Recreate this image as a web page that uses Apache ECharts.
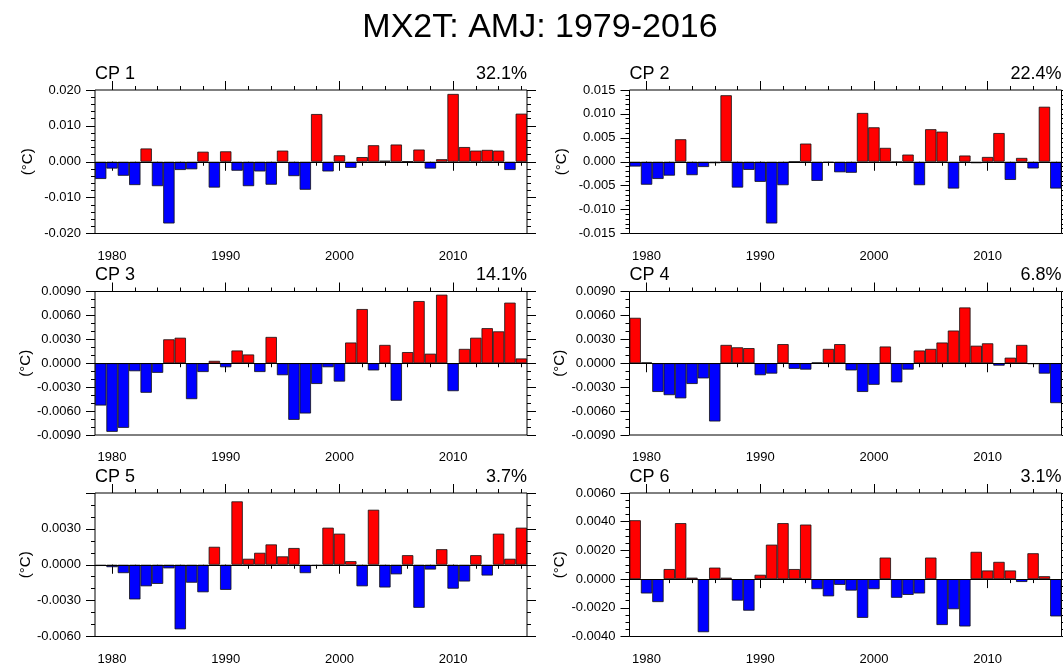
<!DOCTYPE html>
<html>
<head>
<meta charset="utf-8">
<title>MX2T: AMJ: 1979-2016</title>
<script src="https://cdn.jsdelivr.net/npm/echarts@6/dist/echarts.min.js"></script>
<style>
  html, body { margin: 0; padding: 0; background: #fff; }
  #chart { width: 1063px; height: 669px; }
</style>
</head>
<body>
<div id="chart"></div>
<script>
// Years of the record
const years = [
  '1979','1980','1981','1982','1983','1984','1985','1986','1987','1988',
  '1989','1990','1991','1992','1993','1994','1995','1996','1997','1998',
  '1999','2000','2001','2002','2003','2004','2005','2006','2007','2008',
  '2009','2010','2011','2012','2013','2014','2015','2016'
];

// Principal component time series (°C), one value per year
const cp1 = [-0.0048,-0.0019,-0.0039,-0.0065,0.0037,-0.0068,-0.0172,-0.0023,-0.0021,0.0028,
             -0.0072,0.0029,-0.0025,-0.0068,-0.0027,-0.0064,0.0031,-0.0040,-0.0078,0.0133,
             -0.0027,0.0018,-0.0017,0.0013,0.0046,0.0003,0.0048,0.0001,0.0034,-0.0019,
             0.0007,0.0189,0.0041,0.0031,0.0033,0.0031,-0.0023,0.0134];
const cp2 = [-0.0010,-0.0048,-0.0036,-0.0029,0.0047,-0.0028,-0.0011,-0.0003,0.0139,-0.0054,
             -0.0017,-0.0042,-0.0129,-0.0049,0.0000,0.0038,-0.0040,-0.0002,-0.0022,-0.0023,
             0.0102,0.0072,0.0029,-0.0001,0.0015,-0.0049,0.0068,0.0063,-0.0056,0.0013,
             -0.0003,0.0010,0.0060,-0.0038,0.0008,-0.0014,0.0115,-0.0056];
const cp3 = [-0.0053,-0.0086,-0.0081,-0.0010,-0.0037,-0.0012,0.0030,0.0032,-0.0045,-0.0011,
             0.0003,-0.0005,0.0016,0.0011,-0.0011,0.0033,-0.0015,-0.0071,-0.0063,-0.0026,
             -0.0005,-0.0023,0.0026,0.0068,-0.0009,0.0023,-0.0047,0.0014,0.0078,0.0012,
             0.0086,-0.0035,0.0018,0.0032,0.0044,0.0040,0.0076,0.0006];
const cp4 = [0.0057,0.0001,-0.0036,-0.0040,-0.0044,-0.0026,-0.0019,-0.0073,0.0023,0.0020,
             0.0019,-0.0015,-0.0013,0.0024,-0.0007,-0.0008,0.0001,0.0018,0.0024,-0.0009,
             -0.0036,-0.0027,0.0021,-0.0024,-0.0008,0.0016,0.0018,0.0026,0.0041,0.0070,
             0.0022,0.0025,-0.0003,0.0007,0.0023,-0.0001,-0.0013,-0.0050];
const cp5 = [-0.0001,-0.0002,-0.0007,-0.0029,-0.0018,-0.0016,-0.0003,-0.0054,-0.0015,-0.0023,
             0.0015,-0.0021,0.0053,0.0005,0.0010,0.0017,0.0007,0.0014,-0.0007,-0.0001,
             0.0031,0.0026,0.0003,-0.0018,0.0046,-0.0019,-0.0008,0.0008,-0.0036,-0.0004,
             0.0013,-0.0020,-0.0014,0.0008,-0.0009,0.0026,0.0005,0.0031];
const cp6 = [0.0041,-0.0010,-0.0016,0.0007,0.0039,0.0001,-0.0037,0.0008,0.0001,-0.0015,
             -0.0022,0.0003,0.0024,0.0039,0.0007,0.0038,-0.0007,-0.0012,-0.0004,-0.0008,
             -0.0027,-0.0007,0.0015,-0.0013,-0.0011,-0.0010,0.0015,-0.0032,-0.0021,-0.0033,
             0.0019,0.0006,0.0012,0.0006,-0.0002,0.0018,0.0002,-0.0026];

// Panel names and explained variance
const panelNames = ['CP 1', 'CP 2', 'CP 3', 'CP 4', 'CP 5', 'CP 6'];
const variance = ['32.1%', '22.4%', '14.1%', '6.8%', '3.7%', '3.1%'];

// Y-axis ranges and tick steps per panel
const yMin = [-0.020, -0.015, -0.009, -0.009, -0.006, -0.004];
const yMax = [0.020, 0.015, 0.009, 0.009, 0.006, 0.006];
const yStep = [0.010, 0.005, 0.003, 0.003, 0.003, 0.002];
const yMinorSplit = [5, 5, 3, 3, 3, 4];
const yDecimals = [3, 3, 4, 4, 4, 4];
const yShowTop = [true, true, true, true, false, true];

const series = [cp1, cp2, cp3, cp4, cp5, cp6];

const FONT = '"Liberation Sans", Arial, Helvetica, sans-serif';
const colLeft = [95, 629.5];
const rowTop = [90, 291.5, 493];
const plotW = 432;
const plotH = 143.5;

const grids = [], xAxes = [], yAxes = [], seriesList = [], graphics = [];

graphics.push({
  type: 'text', x: 540, y: 28,
  style: { text: 'MX2T: AMJ: 1979-2016', font: '34px ' + FONT, fill: '#000',
           align: 'center', verticalAlign: 'middle' }
});

const isDecade = (idx, val) => (+val) % 10 === 0;
const isEven = (idx, val) => (+val) % 2 === 0;

for (let i = 0; i < 6; i++) {
  const left = colLeft[i % 2];
  const top = rowTop[Math.floor(i / 2)];
  grids.push({
    left: left, top: top, width: plotW, height: plotH,
    show: true, borderColor: '#000', borderWidth: 1, backgroundColor: 'transparent'
  });

  // bottom/top year axes: long ticks each decade, short ticks every second year
  const xBase = {
    gridIndex: i, type: 'category', data: years, boundaryGap: true,
    axisLine: { show: false }, splitLine: { show: false }
  };
  xAxes.push(Object.assign({}, xBase, {
    position: 'bottom',
    axisTick: { show: true, alignWithLabel: true, length: 9, interval: isDecade,
                lineStyle: { color: '#000', width: 1 } },
    axisLabel: { show: true, interval: isDecade, margin: 16, fontSize: 13,
                 fontFamily: FONT, color: '#000' }
  }));
  xAxes.push(Object.assign({}, xBase, {
    position: 'bottom',
    axisTick: { show: true, alignWithLabel: true, length: 4, interval: isEven,
                lineStyle: { color: '#000', width: 1 } },
    axisLabel: { show: false }
  }));
  xAxes.push(Object.assign({}, xBase, {
    position: 'top',
    axisTick: { show: true, alignWithLabel: true, length: 9, interval: isDecade,
                lineStyle: { color: '#000', width: 1 } },
    axisLabel: { show: false }
  }));
  xAxes.push(Object.assign({}, xBase, {
    position: 'top',
    axisTick: { show: true, alignWithLabel: true, length: 4, interval: isEven,
                lineStyle: { color: '#000', width: 1 } },
    axisLabel: { show: false }
  }));

  const dec = yDecimals[i];
  const yBase = {
    gridIndex: i, type: 'value', min: yMin[i], max: yMax[i], interval: yStep[i],
    axisLine: { show: false }, splitLine: { show: false },
    axisTick: { show: true, length: 9, lineStyle: { color: '#000', width: 1 } },
    minorTick: { show: true, splitNumber: yMinorSplit[i], length: 4,
                 lineStyle: { color: '#000', width: 1 } },
    minorSplitLine: { show: false }
  };
  yAxes.push(Object.assign({}, yBase, {
    position: 'left',
    name: '(°C)', nameLocation: 'middle', nameRotate: 90, nameGap: 60,
    nameTextStyle: { fontSize: 15, fontFamily: FONT, color: '#000' },
    axisLabel: {
      show: true, margin: 14, fontSize: 13, fontFamily: FONT, color: '#000',
      showMaxLabel: yShowTop[i],
      formatter: v => {
        const s = (+v).toFixed(dec);
        return /^-0\.0+$/.test(s) ? s.slice(1) : s;
      }
    }
  }));
  yAxes.push(Object.assign({}, yBase, {
    position: 'right',
    axisLabel: { show: false }
  }));

  seriesList.push({
    type: 'bar',
    xAxisIndex: 4 * i,
    yAxisIndex: 2 * i,
    data: series[i],
    barWidth: '100%',
    barCategoryGap: '0%',
    itemStyle: {
      color: p => (p.value >= 0 ? '#ff0000' : '#0000ff'),
      borderColor: '#111',
      borderWidth: 0.8
    },
    markLine: {
      silent: true, symbol: 'none', animation: false,
      label: { show: false },
      lineStyle: { color: '#000', width: 1, type: 'solid' },
      data: [{ yAxis: 0 }]
    }
  });

  graphics.push({
    type: 'text', x: left, y: top - 16,
    style: { text: panelNames[i], font: '18px ' + FONT, fill: '#000',
             align: 'left', verticalAlign: 'middle' }
  });
  graphics.push({
    type: 'text', x: left + plotW, y: top - 16,
    style: { text: variance[i], font: '18px ' + FONT, fill: '#000',
             align: 'right', verticalAlign: 'middle' }
  });
}

const chart = echarts.init(document.getElementById('chart'), null, { renderer: 'canvas' });
chart.setOption({
  animation: false,
  backgroundColor: '#fff',
  textStyle: { fontFamily: FONT },
  grid: grids,
  xAxis: xAxes,
  yAxis: yAxes,
  series: seriesList,
  graphic: graphics
});
</script>
</body>
</html>
